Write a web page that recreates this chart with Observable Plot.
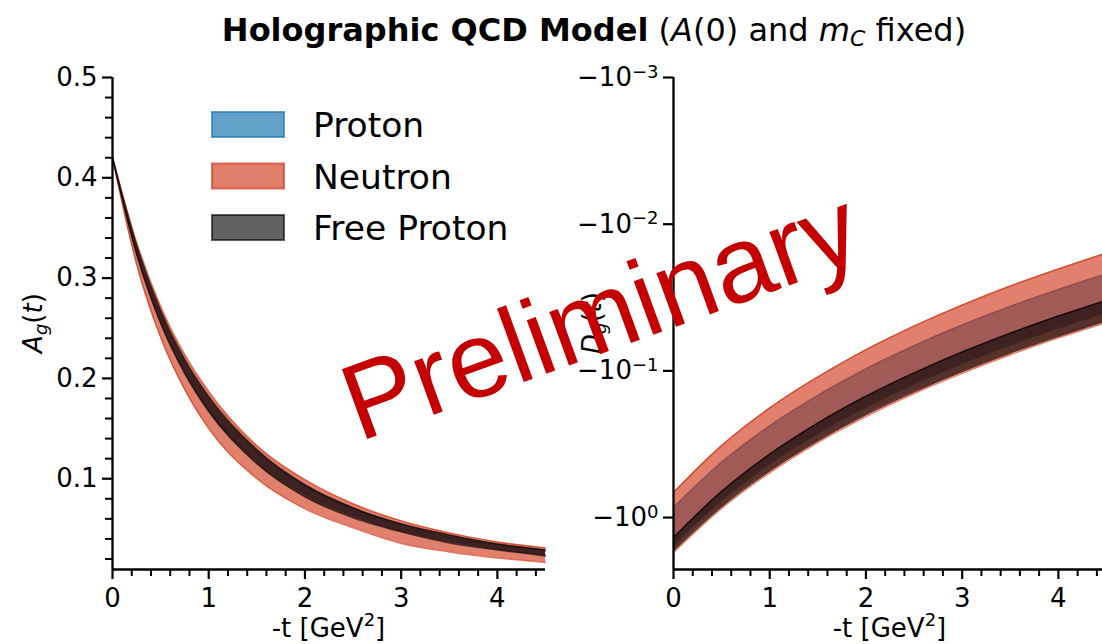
<!DOCTYPE html>
<html>
<head>
<meta charset="utf-8">
<script src="https://cdn.jsdelivr.net/npm/d3@7"></script>
<script src="https://cdn.jsdelivr.net/npm/@observablehq/plot@0.6"></script>
<style>
  body { margin: 0; background: #fff; }
  #fig { position: relative; width: 1102px; height: 644px; overflow: hidden; background: #fff; }
  #fig > svg { position: absolute; top: 0; }
  #overlay { left: 0; pointer-events: none; }
</style>
</head>
<body>
<div id="fig"></div>
<script>
// ---- series ----
const seriesNames = ["Proton", "Neutron", "Free Proton"];
const seriesColors = ["#1f77b4", "#cd2b0a", "#000000"];
const seriesAlpha = [0.7, 0.6, 0.62];

// ---- A_g(t): gravitational form factor A, bands (lower, upper) ----
const tAg = [0, 0.25, 0.5, 0.75, 1, 1.5, 2, 2.5, 3, 3.5, 4, 4.5];
const agProtonLow   = [0.420, 0.326, 0.258, 0.208, 0.169, 0.117, 0.085, 0.063, 0.048, 0.038, 0.030, 0.024];
const agProtonHigh  = [0.420, 0.332, 0.266, 0.217, 0.179, 0.127, 0.093, 0.070, 0.054, 0.042, 0.034, 0.028];
const agNeutronLow  = [0.420, 0.314, 0.241, 0.189, 0.150, 0.100, 0.070, 0.051, 0.0355, 0.027, 0.021, 0.0165];
const agNeutronHigh = [0.420, 0.336, 0.272, 0.224, 0.187, 0.133, 0.099, 0.075, 0.058, 0.046, 0.037, 0.031];
const agFreeLow     = [0.420, 0.324, 0.255, 0.205, 0.167, 0.115, 0.082, 0.061, 0.047, 0.036, 0.029, 0.023];
const agFreeHigh    = [0.420, 0.333, 0.268, 0.219, 0.182, 0.129, 0.094, 0.071, 0.055, 0.044, 0.035, 0.029];

// ---- D_g(t): gravitational form factor D (negative), bands (lower, upper) ----
const tDg = [0, 0.5, 1, 1.5, 2, 2.5, 3, 3.5, 4, 4.5];
const dgProtonLow   = [-1.524, -0.756, -0.429, -0.266, -0.176, -0.1227, -0.0888, -0.0664, -0.0509, -0.0399];
const dgProtonHigh  = [-0.853, -0.420, -0.237, -0.147, -0.0970, -0.0674, -0.0487, -0.0364, -0.0279, -0.0218];
const dgNeutronLow  = [-1.730, -0.867, -0.495, -0.308, -0.205, -0.143, -0.104, -0.0777, -0.0596, -0.0468];
const dgNeutronHigh = [-0.675, -0.323, -0.179, -0.110, -0.0717, -0.0495, -0.0356, -0.0264, -0.0202, -0.0157];
const dgFreeLow     = [-1.675, -0.840, -0.479, -0.299, -0.198, -0.1385, -0.1005, -0.0752, -0.0578, -0.0453];
const dgFreeHigh    = [-1.368, -0.663, -0.370, -0.227, -0.149, -0.1033, -0.0744, -0.0554, -0.0423, -0.0330];

// ---- axes ----
const tTicks = [0, 1, 2, 3, 4];
const tMinorTicks = [0.2,0.4,0.6,0.8,1.2,1.4,1.6,1.8,2.2,2.4,2.6,2.8,3.2,3.4,3.6,3.8,4.2,4.4];
const agTicks = [0.1, 0.2, 0.3, 0.4, 0.5];
const agTickLabels = ["0.1", "0.2", "0.3", "0.4", "0.5"];
const agMinorTicks = [0.02,0.04,0.06,0.08,0.12,0.14,0.16,0.18,0.22,0.24,0.26,0.28,0.32,0.34,0.36,0.38,0.42,0.44,0.46,0.48];
const dgTicks = [-1, -0.1, -0.01, -0.001];
const dgTickExponents = ["0", "−1", "−2", "−3"];
const agDomain = [0.0095, 0.5];
const dgDomain = [-2.26, -0.001];

function bandRows(t, lo, hi) {
  return t.map((v, i) => ({t: v, lo: lo[i], hi: hi[i]}));
}

function bandMarks(rows, k) {
  const c = seriesColors[k], a = seriesAlpha[k];
  return [
    Plot.areaY(rows, {x: "t", y1: "lo", y2: "hi", fill: c, fillOpacity: a, curve: "monotone-x"}),
    Plot.lineY(rows, {x: "t", y: "lo", stroke: c, strokeOpacity: a, strokeWidth: 1.5, curve: "monotone-x"}),
    Plot.lineY(rows, {x: "t", y: "hi", stroke: c, strokeOpacity: a, strokeWidth: 1.5, curve: "monotone-x"})
  ];
}

const agBands = [
  bandRows(tAg, agProtonLow, agProtonHigh),
  bandRows(tAg, agNeutronLow, agNeutronHigh),
  bandRows(tAg, agFreeLow, agFreeHigh)
];
const dgBands = [
  bandRows(tDg, dgProtonLow, dgProtonHigh),
  bandRows(tDg, dgNeutronLow, dgNeutronHigh),
  bandRows(tDg, dgFreeLow, dgFreeHigh)
];

const tickFont = 26;
const axisStyle = {fontFamily: "DejaVu Sans", fontSize: tickFont + "px", color: "#000", background: "transparent", overflow: "visible"};

function xAxes() {
  return [
    Plot.axisX(tTicks, {tickSize: 10, tickPadding: 9, strokeWidth: 2.2, label: null, fontSize: tickFont, tickFormat: d => String(d)}),
    Plot.axisX(tMinorTicks, {tickSize: 7, strokeWidth: 2, label: null, tickFormat: () => ""})
  ];
}

// Left panel: A_g(t)
const leftPlot = Plot.plot({
  width: 560, height: 644,
  marginLeft: 112, marginRight: 15, marginTop: 77, marginBottom: 75,
  style: axisStyle,
  x: {domain: [0, 4.5], axis: null},
  y: {domain: agDomain, axis: null},
  marks: [
    ...agBands.flatMap((rows, k) => bandMarks(rows, k)),
    ...xAxes(),
    Plot.axisY(agTicks, {tickSize: 10, tickPadding: 5, strokeWidth: 2.2, label: null, fontSize: tickFont,
      tickFormat: d => agTickLabels[agTicks.indexOf(d)]}),
    Plot.axisY(agMinorTicks, {tickSize: 7, strokeWidth: 2, label: null, tickFormat: () => ""}),
    Plot.ruleX([0], {strokeWidth: 2.3}),
    Plot.ruleY([agDomain[0]], {strokeWidth: 2.3})
  ]
});
leftPlot.style.left = "0px";

// Right panel: D_g(t) on a logarithmic axis of negative values
const rightPlot = Plot.plot({
  width: 546, height: 644,
  marginLeft: 113, marginRight: 0, marginTop: 77, marginBottom: 75,
  style: axisStyle,
  x: {domain: [0, 4.5], axis: null},
  y: {type: "log", domain: dgDomain, axis: null},
  marks: [
    ...dgBands.flatMap((rows, k) => bandMarks(rows, k)),
    ...xAxes(),
    Plot.axisY(dgTicks, {tickSize: 10, tickPadding: 5, strokeWidth: 2.2, label: null, fontSize: tickFont,
      tickFormat: d => "−10^" + dgTickExponents[dgTicks.indexOf(d)]}),
    Plot.ruleX([0], {strokeWidth: 2.3}),
    Plot.ruleY([dgDomain[0]], {strokeWidth: 2.3})
  ]
});
rightPlot.style.left = "560px";

// power-of-ten labels with raised exponents
const svgNS = "http://www.w3.org/2000/svg";
rightPlot.querySelectorAll('g[aria-label="y-axis tick label"] text').forEach(el => {
  const [base, exp] = el.textContent.split("^");
  if (exp === undefined) return;
  el.textContent = "";
  const b = document.createElementNS(svgNS, "tspan");
  b.textContent = base;
  const e = document.createElementNS(svgNS, "tspan");
  e.textContent = exp;
  e.setAttribute("dy", "-0.45em");
  e.setAttribute("font-size", "18");
  el.append(b, e);
});

const fig = document.getElementById("fig");
fig.append(leftPlot, rightPlot);

// Titles, labels, legend and watermark
const overlay = d3.select(fig).append("svg")
  .attr("id", "overlay").attr("width", 1102).attr("height", 644)
  .style("font-family", "DejaVu Sans").style("fill", "#000");

const title = overlay.append("text").attr("x", 594).attr("y", 41)
  .attr("text-anchor", "middle").attr("font-size", 32);
title.append("tspan").attr("font-weight", "bold").text("Holographic QCD Model");
title.append("tspan").text(" (");
title.append("tspan").attr("font-style", "italic").text("A");
title.append("tspan").text("(0) and ");
title.append("tspan").attr("font-style", "italic").text("m");
title.append("tspan").attr("font-style", "italic").attr("font-size", 22).attr("dy", 5).text("C");
title.append("tspan").attr("dy", -5).text(" fixed)");

// x labels
for (const cx of [328.5, 889.5]) {
  const xl = overlay.append("text").attr("x", cx).attr("y", 637)
    .attr("text-anchor", "middle").attr("font-size", 26);
  xl.append("tspan").text("-t [GeV");
  xl.append("tspan").attr("font-size", 18).attr("dy", -11).text("2");
  xl.append("tspan").attr("dy", 11).text("]");
}

// y labels
function yLabel(cx, cy, letter) {
  const yl = overlay.append("text")
    .attr("transform", `translate(${cx},${cy}) rotate(-90)`)
    .attr("text-anchor", "middle").attr("font-size", 26);
  yl.append("tspan").attr("font-style", "italic").text(letter);
  yl.append("tspan").attr("font-style", "italic").attr("font-size", 18).attr("dy", 5).text("g");
  yl.append("tspan").attr("dy", -5).text("(");
  yl.append("tspan").attr("font-style", "italic").text("t");
  yl.append("tspan").text(")");
}
yLabel(42, 323, "A");
yLabel(601, 323, "D");

// legend
seriesNames.forEach((name, k) => {
  const top = 112 + k * 51.5;
  overlay.append("rect").attr("x", 212).attr("y", top).attr("width", 72).attr("height", 25)
    .attr("fill", seriesColors[k]).attr("fill-opacity", seriesAlpha[k])
    .attr("stroke", seriesColors[k]).attr("stroke-opacity", seriesAlpha[k]).attr("stroke-width", 2);
  overlay.append("text").attr("x", 313).attr("y", top + 25).attr("font-size", 34.5).text(name);
});

// watermark
overlay.append("text")
  .attr("transform", "translate(359,442) rotate(-20)")
  .style("font-family", "Liberation Sans")
  .attr("font-size", 108).attr("fill", "#c40000")
  .text("Preliminary");
</script>
</body>
</html>
